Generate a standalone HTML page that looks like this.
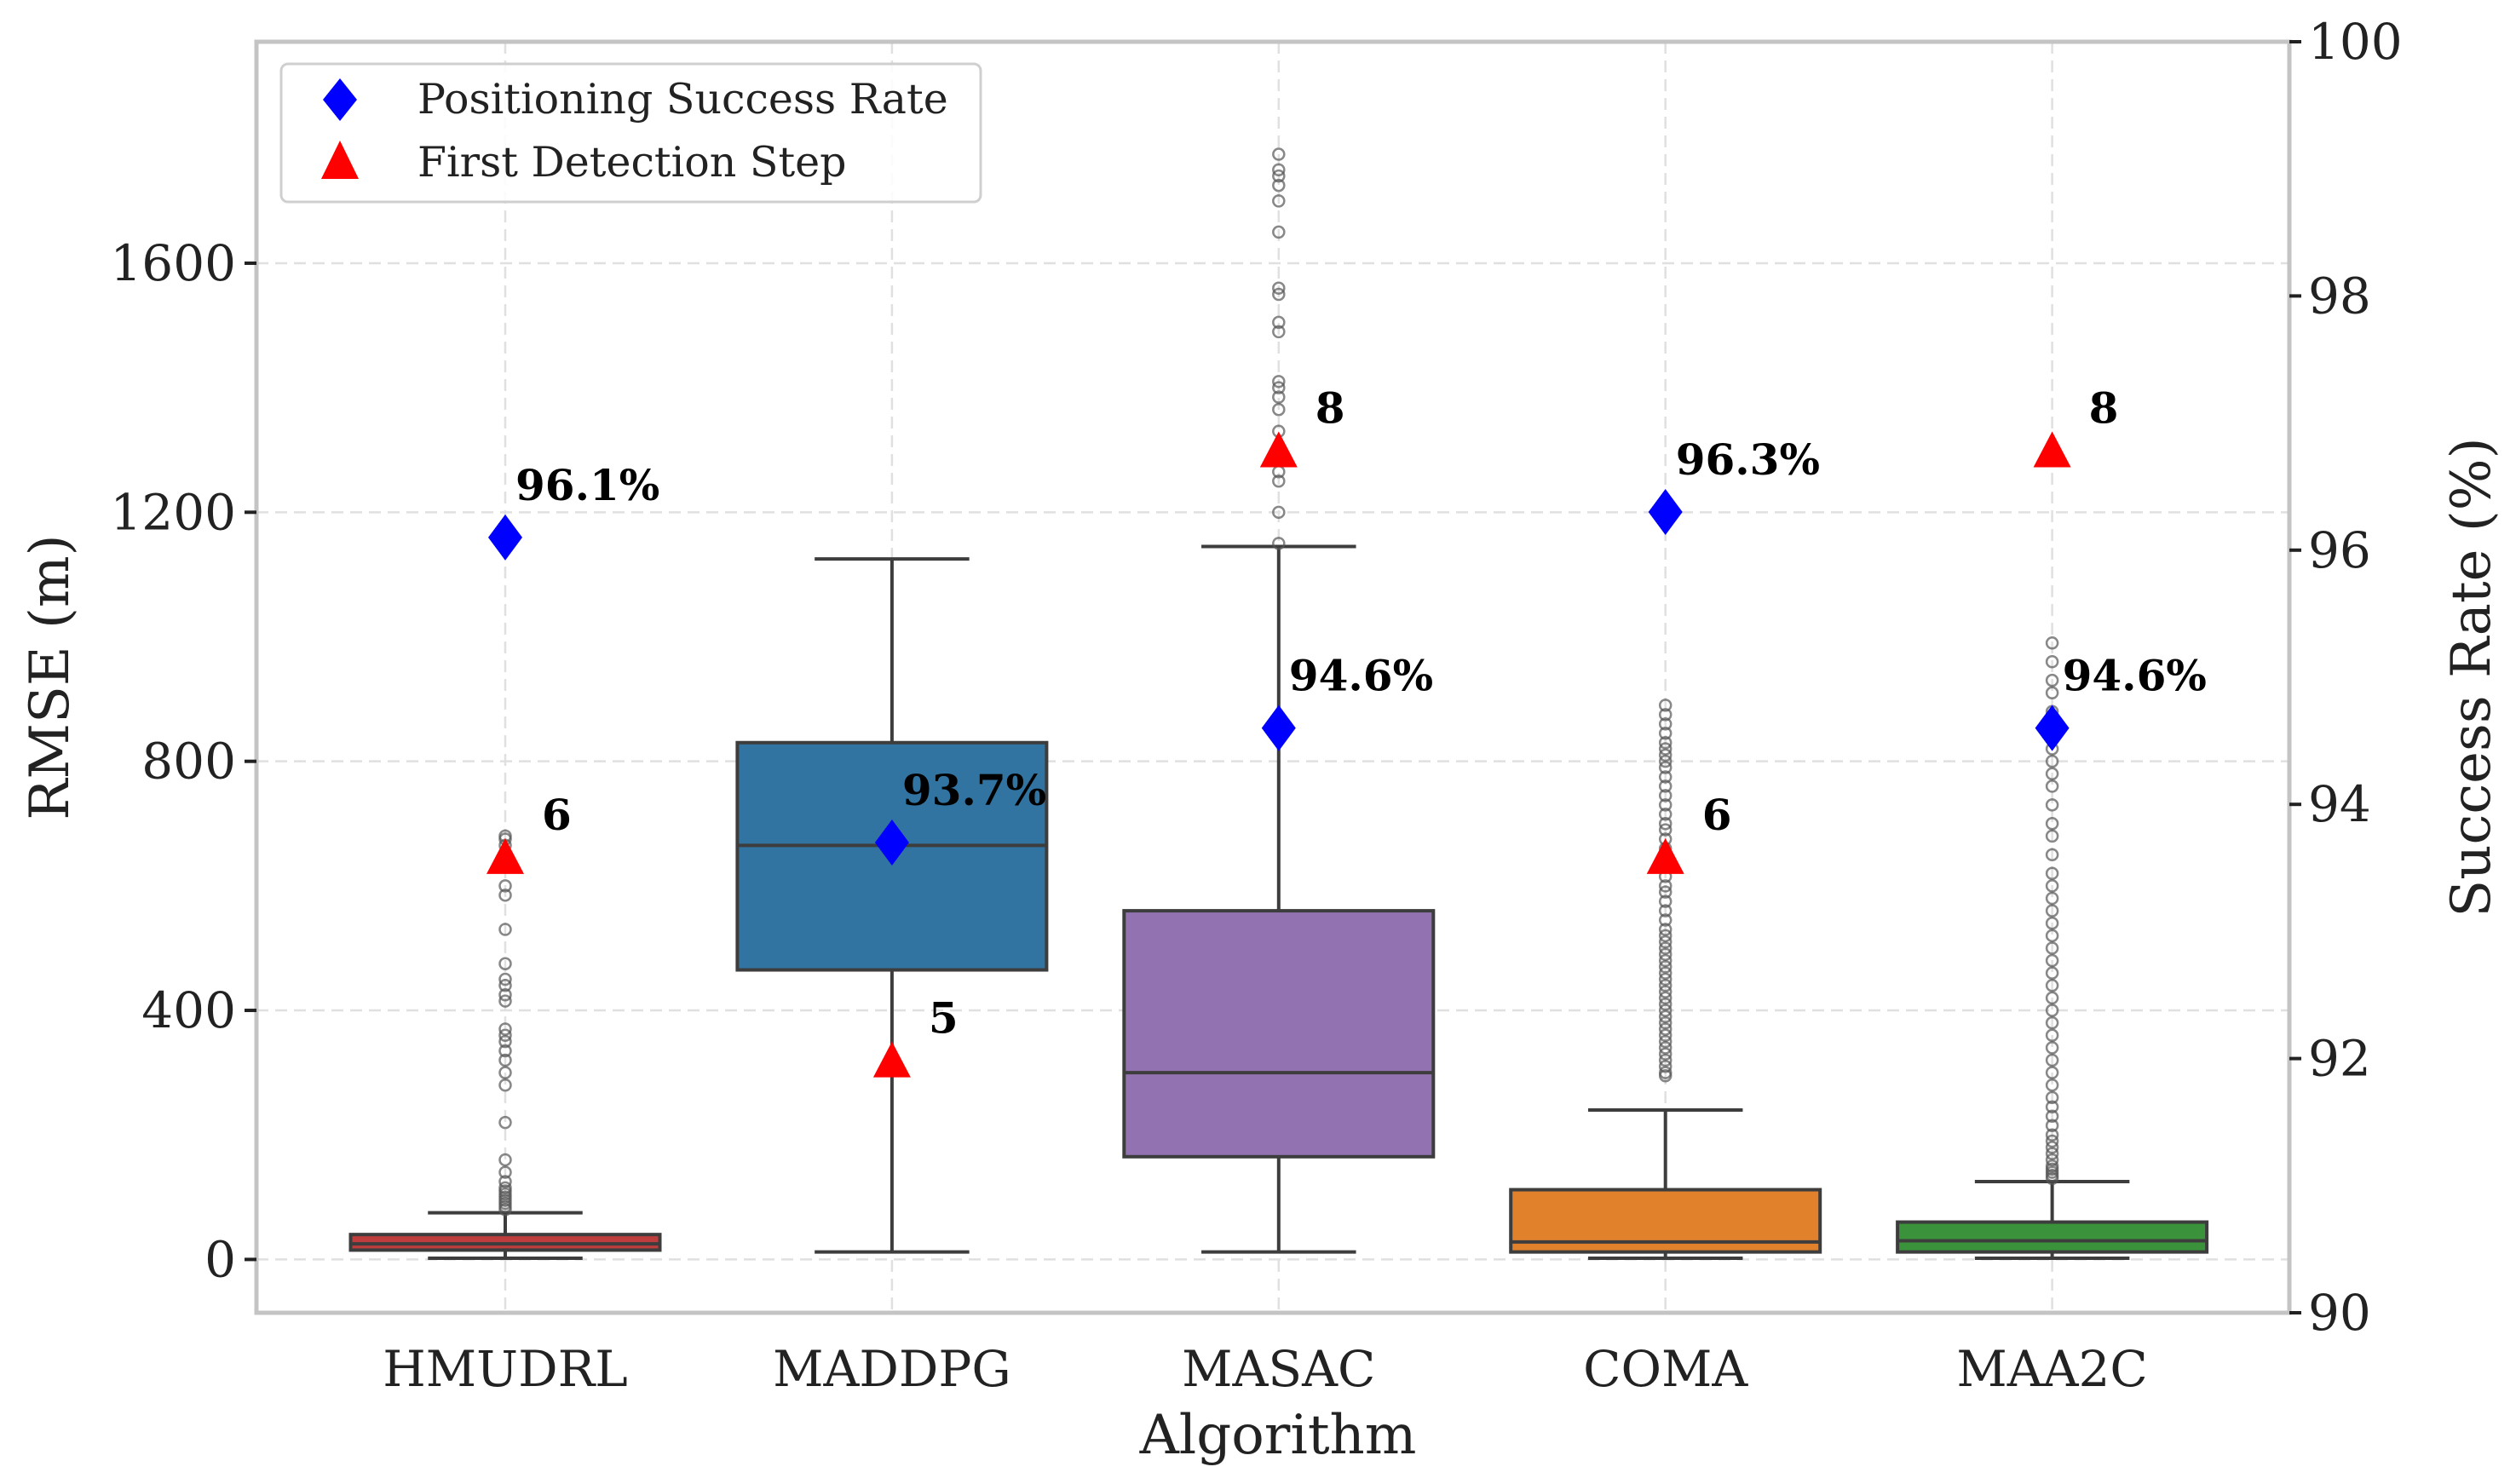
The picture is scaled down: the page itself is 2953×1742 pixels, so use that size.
<!DOCTYPE html>
<html><head><meta charset="utf-8"><style>
html,body{margin:0;padding:0;background:#fff}
svg{display:block}
text{font-family:"DejaVu Serif","Liberation Serif",serif}
</style></head><body>
<svg id="chart" width="2953" height="1742" viewBox="0 0 2953 1742" xmlns="http://www.w3.org/2000/svg"></svg>
<script>
const categories=["HMUDRL","MADDPG","MASAC","COMA","MAA2C"];
const colors=["#c03d3e","#3274a1","#9372b2","#e1812c","#3a923a"];
const whiskerLow=[2,12,12,2,2];
const q1=[15,465,165,12,12];
const medians=[25,665,300,28,30];
const q3=[40,830,560,112,60];
const whiskerHigh=[75,1125,1145,240,125];
const successRate=[96.1,93.7,94.6,96.3,94.6];
const detectionStep=[6,5,8,6,8];
const leftTicks=[0,400,800,1200,1600];
const rightTicks=[90,92,94,96,98,100];
const outHMUDRL=[80,85,90,95,100,105,110,115,125,140,160,220,280,300,320,335,350,360,370,415,425,440,450,475,530,585,600,665,675,680];
const outMADDPG=[];
const outMASAC=[1150,1200,1250,1265,1300,1330,1365,1385,1400,1410,1490,1505,1550,1560,1650,1700,1725,1740,1750,1775];
const outCOMA=[295,300,310,320,330,340,350,360,370,380,390,400,410,420,430,440,450,460,470,480,490,500,510,520,530,545,560,575,590,600,615,630,645,660,675,690,700,715,730,745,760,775,790,800,810,820,830,845,860,875,890];
const outMAA2C=[130,135,140,145,150,160,170,180,190,200,215,230,245,260,280,300,320,340,360,380,400,420,440,460,480,500,520,540,560,580,600,620,650,680,700,730,760,780,800,820,850,880,910,930,960,990];
const outliers=[outHMUDRL,outMADDPG,outMASAC,outCOMA,outMAA2C];

const L=301,R=2687,T=49,B=1541;
const y0=1478.4, pxPerUnit=0.7309;
function yL(v){return y0-v*pxPerUnit;}
function yR(v){return B-(v-90)*(B-T)/10;}
function stepToRate(s){return 84+1.6*s;}
function xC(i){return 593+i*453.9;}
const bw=363;
const svg=document.getElementById('chart');
const NS="http://www.w3.org/2000/svg";
function mk(tag,attrs,parent){const e=document.createElementNS(NS,tag);for(const k in attrs)e.setAttribute(k,attrs[k]);(parent||svg).appendChild(e);return e;}

leftTicks.forEach(t=>{
  const g=mk('line',{x1:L,x2:R,y1:yL(t),y2:yL(t),stroke:'#e0e0e0','stroke-width':2.5,'stroke-dasharray':'14 8'});
  
  
});
categories.forEach((c,i)=>{
  const g=mk('line',{x1:xC(i),x2:xC(i),y1:T,y2:B,stroke:'#e0e0e0','stroke-width':2.5,'stroke-dasharray':'14 8'});
  
  
});

categories.forEach((c,i)=>{
  const g=mk('g',{});
  
  
  const x=xC(i);
  mk('line',{x1:x,x2:x,y1:yL(whiskerLow[i]),y2:yL(q1[i]),stroke:'#3d3d3d','stroke-width':4},g);
  mk('line',{x1:x,x2:x,y1:yL(q3[i]),y2:yL(whiskerHigh[i]),stroke:'#3d3d3d','stroke-width':4},g);
  mk('line',{x1:x-bw/4,x2:x+bw/4,y1:yL(whiskerLow[i]),y2:yL(whiskerLow[i]),stroke:'#3d3d3d','stroke-width':4},g);
  mk('line',{x1:x-bw/4,x2:x+bw/4,y1:yL(whiskerHigh[i]),y2:yL(whiskerHigh[i]),stroke:'#3d3d3d','stroke-width':4},g);
  mk('rect',{x:x-bw/2,y:yL(q3[i]),width:bw,height:yL(q1[i])-yL(q3[i]),fill:colors[i],stroke:'#3d3d3d','stroke-width':4},g);
  mk('line',{x1:x-bw/2,x2:x+bw/2,y1:yL(medians[i]),y2:yL(medians[i]),stroke:'#3d3d3d','stroke-width':4},g);
  outliers[i].forEach(v=>{
    const o=mk('circle',{cx:x,cy:yL(v),r:6.5,fill:'none',stroke:'#555','stroke-opacity':0.7,'stroke-width':2.5},g);
    
    
  });
});

categories.forEach((c,i)=>{
  const x=xC(i);
  const yd=yR(successRate[i]);
  const d=mk('polygon',{points:`${x},${yd-27} ${x+20},${yd} ${x},${yd+27} ${x-20},${yd}`,fill:'#0000ff'});
  
  
  const tl=mk('text',{x:x+12,y:yd-44,'font-size':50,'font-weight':'bold',fill:'#000'});
  tl.textContent=successRate[i].toFixed(1)+'%';
  
  
  const yt=yR(stepToRate(detectionStep[i]));
  const tr=mk('polygon',{points:`${x},${yt-20} ${x+22},${yt+22} ${x-22},${yt+22}`,fill:'#ff0000'});
  
  
  const sl=mk('text',{x:x+43,y:yt-30,'font-size':50,'font-weight':'bold',fill:'#000'});
  sl.textContent=String(detectionStep[i]);
  
  
});

const fr=mk('rect',{x:L,y:T,width:R-L,height:B-T,fill:'none',stroke:'#c4c4c4','stroke-width':5});



leftTicks.forEach(t=>{
  mk('line',{x1:L-14,x2:L,y1:yL(t),y2:yL(t),stroke:'#222','stroke-width':4});
  const tx=mk('text',{x:L-24,y:yL(t)+20,'font-size':58,'text-anchor':'end',fill:'#222'});
  tx.textContent=t;
  
  
});
rightTicks.forEach(t=>{
  mk('line',{x1:R,x2:R+14,y1:yR(t),y2:yR(t),stroke:'#222','stroke-width':4});
  const tx=mk('text',{x:R+22,y:yR(t)+20,'font-size':58,fill:'#222'});
  tx.textContent=t;
  
  
});
categories.forEach((c,i)=>{
  const tx=mk('text',{x:xC(i),y:1627,'font-size':58,'text-anchor':'middle',fill:'#222'});
  tx.textContent=c;
  
  
});
</script>
<div style="position:absolute;left:0;top:0;width:2953px;height:1742px;pointer-events:none">
<svg width="2953" height="1742" xmlns="http://www.w3.org/2000/svg">
<text x="1500" y="1706" font-size="64" text-anchor="middle" fill="#222" font-family="DejaVu Serif, serif">Algorithm</text>
<text transform="translate(80,795) rotate(-90)" font-size="64" text-anchor="middle" fill="#222" font-family="DejaVu Serif, serif">RMSE (m)</text>
<text transform="translate(2922,795) rotate(-90)" font-size="64" text-anchor="middle" fill="#222" font-family="DejaVu Serif, serif">Success Rate (%)</text>
<g>
<rect x="330" y="75" width="821" height="162" rx="8" fill="#fff" fill-opacity="0.85" stroke="#cfcfcf" stroke-width="3"/>
<polygon points="399,92 419,117 399,142 379,117" fill="#0000ff"/>
<polygon points="399,165 421,210 377,210" fill="#ff0000"/>
<text x="490" y="133" font-size="49" fill="#222" font-family="DejaVu Serif, serif">Positioning Success Rate</text>
<text x="490" y="207" font-size="49" fill="#222" font-family="DejaVu Serif, serif">First Detection Step</text>
</g>
</svg></div>
</body></html>
